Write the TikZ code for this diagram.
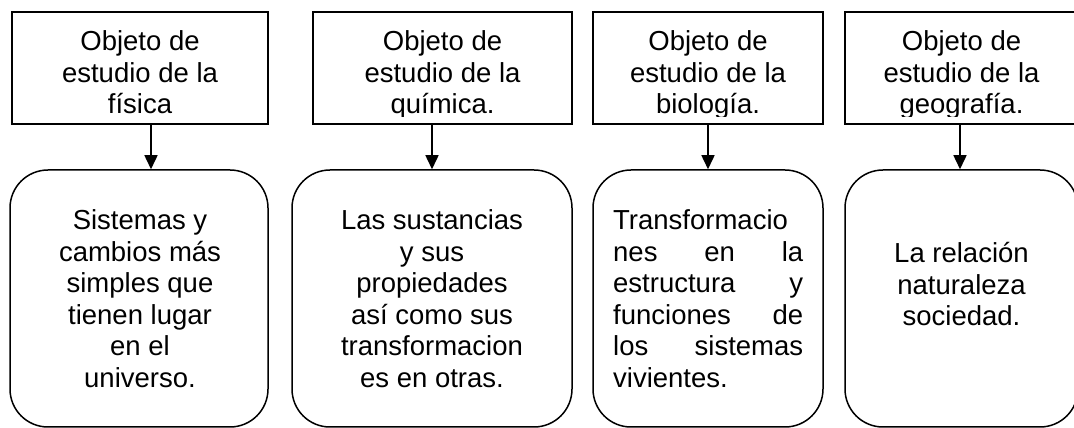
\documentclass[tikz,border=0pt]{standalone}
\usepackage{fontspec}
\setmainfont{Liberation Sans}
\usetikzlibrary{arrows.meta}

\begin{document}
\begin{tikzpicture}[x=1pt,y=1pt]
\tikzstyle{tbox}=[rectangle, draw=black, line width=1.5pt, minimum height=112pt, inner sep=0pt]
\tikzstyle{bbox}=[rectangle, draw=black, line width=1.5pt, rounded corners=38pt, minimum height=257pt, inner sep=0pt]
\tikzstyle{txt}=[align=center, inner sep=0pt, anchor=base, font=\fontsize{27.5}{31.5}\selectfont]
\tikzstyle{connect}=[-{Triangle[length=14pt,width=13pt]}, line width=1.5pt]
  \useasboundingbox (0,0) rectangle (1074,428);
  % top boxes
  \node[tbox, minimum width=256pt] (fis) at (140,360) {};
  \node[tbox, minimum width=259pt] (qui) at (442.5,360) {};
  \node[tbox, minimum width=230pt] (bio) at (708,360) {};
  \node[tbox, minimum width=233pt] (geo) at (961.5,360) {};
  % their texts, cut at the bottom
  \begin{scope}
    \clip (0,311.5) rectangle (1074,428);
    \node[txt] (fistxt) at (140,314) {Objeto de\\estudio de la\\física};
    \node[txt] (quitxt) at (442.5,314) {Objeto de\\estudio de la\\química.};
    \node[txt] (biotxt) at (708,314) {Objeto de\\estudio de la\\biología.};
    \node[txt] (geotxt) at (961.5,314) {Objeto de\\estudio de la\\geografía.};
  \end{scope}
  % bottom boxes
  \node[bbox, minimum width=258pt] (fisobj) at (139,129.5) {};
  \node[bbox, minimum width=280pt] (quiobj) at (432,129.5) {};
  \node[bbox, minimum width=230pt] (bioobj) at (708,129.5) {};
  \node[bbox, minimum width=233pt] (geoobj) at (961.5,129.5) {};
  \node[txt] (fisobjtxt) at (140,40.5) {Sistemas y\\cambios más\\simples que\\tienen lugar\\en el\\universo.};
  \node[txt] (quiobjtxt) at (432,40.5) {Las sustancias\\y sus\\propiedades\\así como sus\\transformacion\\es en otras.};
  \node[txt, align=left, anchor=base west, text width=190pt] (bioobjtxt) at (613,198)
    {Transformacio\\\makebox[190pt][s]{nes\hfill en\hfill la}\\\makebox[190pt][s]{estructura\hfill y}\\\makebox[190pt][s]{funciones\hfill de}\\\makebox[190pt][s]{los\hfill sistemas}\\vivientes.};
  \node[txt] (geoobjtxt) at (961.5,102) {La relación\\naturaleza\\sociedad.};
  % arrows
  \draw[connect] ([xshift=11pt]fis.south) -- ([xshift=11pt]fis.south |- fisobj.north);
  \draw[connect] ([xshift=-10.5pt]qui.south) -- ([xshift=-10.5pt]qui.south |- quiobj.north);
  \draw[connect] (bio.south) -- (bioobj.north);
  \draw[connect] ([xshift=-1.5pt]geo.south) -- ([xshift=-1.5pt]geo.south |- geoobj.north);
\end{tikzpicture}
\end{document}
